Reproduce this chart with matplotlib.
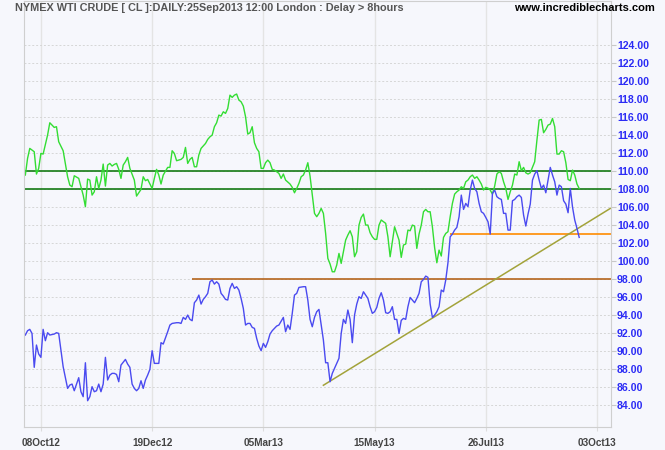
import matplotlib
matplotlib.use('Agg')
import matplotlib.pyplot as plt

plt.rcParams['font.family'] = ['Liberation Sans', 'DejaVu Sans']

# x = trading day index (0 = 26Sep12)
green_days = [1, 2, 3, 5, 6, 7, 8, 9, 11, 12, 14, 15, 16, 18, 20, 21, 22, 23, 25, 26,
              27, 28, 29, 30, 31, 32, 33, 34, 35, 36, 37, 38, 39, 40, 41, 42, 43, 44, 45, 46,
              47, 48, 50, 51, 53, 54, 55, 56, 58, 59, 60, 61, 62, 63, 65, 66, 67, 68, 69, 71,
              72, 73, 74, 75, 76, 77, 78, 79, 80, 82, 83, 84, 85, 86, 87, 88, 89, 90, 91, 92,
              93, 94, 95, 96, 97, 98, 99, 100, 101, 102, 103, 104, 105, 106, 107, 108, 109, 110, 111, 112,
              113, 115, 116, 117, 118, 120, 121, 122, 123, 124, 125, 126, 127, 128, 129, 130, 131, 132, 133, 134,
              135, 136, 137, 138, 139, 140, 141, 142, 143, 144, 145, 146, 147, 148, 149, 150, 151, 152, 153, 154,
              155, 156, 157, 158, 159, 160, 161, 163, 164, 165, 166, 167, 168, 169, 170, 171, 172, 173, 174, 175,
              176, 177, 178, 179, 180, 181, 182, 183, 184, 185, 186, 187, 188, 189, 190, 191, 192, 193, 194, 195,
              196, 197, 198, 199, 200, 201, 202, 203, 204, 205, 206, 207, 208, 209, 210, 211, 212, 213, 214, 215,
              216, 217, 218, 219, 220, 221, 222, 223, 224, 225, 226, 227, 228, 229, 230, 231, 232, 233, 234, 235,
              236, 237, 238, 239, 240, 241, 242, 243, 244, 245, 246, 247, 248, 249, 250]
green_vals = [109.56, 111.41, 112.52, 112.15, 109.67, 110.30, 111.96, 111.89, 114.0, 115.37,
              114.85, 114.93, 113.26, 112.26, 109.37, 108.44, 108.26, 109.48, 109.19, 108.26,
              107.33, 106.04, 109.11, 109.0, 107.33, 107.70, 109.37, 108.07, 109.0, 110.78,
              108.33, 110.67, 110.85, 110.56, 110.74, 110.85, 110.19, 109.19, 110.67, 111.04,
              111.52, 110.30, 109.0, 107.22, 107.96, 109.37, 108.93, 109.07, 108.07, 109.19,
              110.19, 109.56, 108.56, 109.56, 110.41, 110.41, 112.26, 111.96, 111.15, 111.30,
              111.52, 112.63, 110.85, 111.30, 111.52, 110.48, 110.48, 111.78, 112.52, 113.07,
              113.52, 113.81, 114.0, 114.93, 115.37, 116.22, 116.11, 116.59, 116.41, 116.96,
              118.44, 118.19, 118.44, 118.56, 117.89, 117.70, 117.22, 116.04, 114.11, 114.26,
              114.93, 113.15, 112.52, 112.15, 110.30, 110.30, 110.93, 111.22, 110.93, 110.19,
              110.11, 109.74, 109.19, 109.67, 109.0, 108.56, 108.19, 107.59, 108.07, 108.63,
              109.37, 109.56, 110.11, 110.93, 109.44, 107.33, 105.30, 104.93, 105.30, 105.85,
              105.30, 103.07, 100.30, 99.67, 98.81, 98.81, 99.56, 100.85, 99.74, 101.04,
              102.33, 102.89, 103.37, 102.70, 100.48, 101.04, 104.0, 104.85, 105.22, 104.0,
              104.0, 103.15, 102.70, 102.41, 102.41, 104.0, 104.56, 104.19, 102.70, 100.48,
              102.15, 103.81, 103.07, 102.33, 100.41, 101.78, 101.89, 103.44, 103.37, 104.0,
              103.89, 101.41, 103.0, 104.0, 105.48, 105.74, 105.48, 105.48, 103.81, 101.5,
              99.81, 101.22, 100.56, 102.63, 103.07, 103.26, 104.93, 106.41, 107.44, 107.70,
              107.89, 108.26, 108.07, 108.81, 109.0, 109.37, 109.56, 109.19, 109.37, 109.0,
              108.56, 107.89, 108.19, 108.1, 107.89, 107.44, 108.33, 109.67, 109.93, 109.74,
              108.81, 108.07, 106.85, 107.70, 108.44, 109.67, 109.56, 111.04, 110.04, 110.41,
              109.81, 109.67, 109.81, 110.41, 111.04, 113.44, 115.67, 115.74, 114.26, 114.63,
              115.11, 115.22, 115.85, 114.93, 111.89, 111.89, 112.26, 112.15, 110.93, 109.07,
              108.93, 110.11, 109.56, 108.56, 108.07]

blue_days = [1, 2, 3, 4, 5, 6, 7, 8, 9, 10, 11, 12, 14, 15, 16, 17, 18, 20, 21, 22,
             23, 24, 25, 26, 27, 28, 29, 30, 31, 32, 33, 34, 35, 36, 37, 38, 39, 40, 41, 42,
             43, 44, 46, 47, 48, 49, 50, 51, 52, 53, 54, 55, 56, 57, 58, 59, 61, 62, 63, 65,
             66, 67, 69, 70, 71, 72, 73, 74, 75, 76, 77, 78, 79, 80, 81, 82, 83, 84, 85, 86,
             87, 88, 89, 90, 91, 92, 93, 94, 95, 96, 97, 98, 99, 100, 101, 102, 103, 104, 105, 106,
             107, 108, 109, 110, 111, 112, 113, 114, 115, 117, 118, 119, 120, 121, 122, 123, 124, 126, 127, 128,
             129, 130, 131, 132, 133, 134, 135, 136, 137, 138, 139, 140, 141, 142, 143, 144, 145, 146, 147, 148,
             149, 150, 151, 152, 153, 154, 155, 156, 157, 158, 159, 160, 161, 162, 163, 164, 165, 166, 167, 168,
             169, 170, 171, 172, 173, 174, 175, 176, 177, 178, 179, 180, 181, 182, 183, 184, 185, 186, 187, 188,
             189, 190, 191, 192, 193, 194, 195, 196, 197, 198, 199, 200, 201, 202, 203, 204, 205, 206, 207, 208,
             209, 210, 211, 212, 213, 214, 215, 216, 217, 218, 219, 220, 221, 222, 223, 224, 225, 226, 227, 228,
             229, 230, 231, 232, 233, 234, 235, 236, 237, 238, 239, 240, 241, 242, 243, 244, 245, 246, 247, 248,
             249, 250]
blue_vals = [91.78, 92.26, 92.41, 91.96, 88.19, 90.67, 89.67, 89.30, 92.41, 91.15,
             92.04, 91.78, 91.89, 92.04, 91.96, 90.11, 88.26, 85.85, 86.22, 86.33,
             85.59, 86.33, 87.04, 85.48, 84.93, 88.70, 84.48, 84.93, 86.04, 85.48,
             85.59, 86.33, 85.48, 86.33, 89.30, 86.78, 87.33, 87.52, 87.52, 87.4,
             86.59, 88.44, 89.07, 88.55, 88.19, 86.33, 85.85, 85.59, 85.85, 86.70,
             85.85, 86.78, 87.33, 87.96, 90.04, 88.63, 88.63, 90.93, 90.78, 92.15,
             92.89, 93.07, 93.15, 93.15, 93.07, 93.74, 93.52, 94.0, 93.52, 93.37,
             95.37, 95.67, 96.22, 95.22, 95.74, 96.04, 96.41, 97.70, 97.89, 97.44,
             97.70, 97.44, 96.41, 96.11, 95.74, 95.67, 96.96, 97.52, 96.96, 97.15,
             96.78, 95.85, 94.74, 92.89, 93.07, 93.07, 92.63, 92.52, 91.41, 90.56,
             90.04, 90.85, 90.41, 91.04, 91.89, 92.26, 92.52, 92.78, 92.89, 93.74,
             92.15, 92.89, 92.41, 94.19, 96.22, 96.41, 97.07, 97.15, 97.15, 95.67,
             93.52, 92.70, 93.74, 94.37, 94.63, 92.89, 91.22, 88.70, 88.70, 86.59,
             87.52, 88.07, 88.63, 89.19, 91.96, 93.52, 93.07, 94.56, 93.52, 90.93,
             94.0, 95.22, 96.04, 95.85, 96.59, 96.22, 95.85, 94.93, 94.19, 94.37,
             94.85, 95.85, 96.48, 95.67, 94.26, 94.19, 94.37, 94.93, 93.52, 93.52,
             91.96, 93.41, 93.63, 93.52, 94.93, 95.96, 95.67, 95.37, 95.85, 96.41,
             97.70, 97.96, 98.33, 98.19, 95.22, 93.74, 94.0, 94.37, 94.93, 96.78,
             96.59, 97.89, 99.81, 102.70, 103.0, 103.44, 103.74, 104.93, 107.33, 105.74,
             106.41, 106.04, 107.89, 109.0, 108.07, 107.70, 106.41, 105.48, 105.30, 104.85,
             104.37, 103.0, 107.52, 107.89, 107.15, 106.96, 106.85, 105.30, 105.30, 103.44,
             103.44, 106.70, 106.85, 107.15, 107.33, 107.07, 105.11, 103.89, 105.22, 106.33,
             109.0, 109.67, 110.04, 109.0, 108.07, 108.44, 107.59, 109.0, 110.41, 109.56,
             108.81, 107.33, 108.44, 108.26, 106.70, 106.33, 105.37, 108.07, 106.0, 104.56,
             103.63, 102.63]

tick_days = [8, 58, 108, 158, 208, 258]
tick_labels = ['08Oct12', '19Dec12', '05Mar13', '15May13', '26Jul13', '03Oct13']
price_ticks = list(range(84, 125, 2))

band_levels = [110, 108]
support_levels = [98, 103]
support_start = [76, 192]
trend_days = [135, 264]
trend_vals = [86.2, 105.85]

bg = '#f6f7fc'
fig = plt.figure(figsize=(6.65, 4.5), dpi=100)
fig.patch.set_facecolor(bg)
ax = fig.add_axes([24 / 665, 23 / 450, 587 / 665, 426 / 450])
ax.set_facecolor(bg)

xmin, xmax = 0.4, 264.3
ax.set_xlim(xmin, xmax)
ax.set_ylim(81.56, 128.9)

ax.set_yticks(price_ticks)
ax.set_yticklabels(['%.2f' % p for p in price_ticks])
ax.yaxis.tick_right()
ax.tick_params(axis='y', length=3.5, color='#c8c8c8', pad=0.8, labelsize=7.6,
               labelcolor='#2b2bf5')
for t in ax.get_yticklabels():
    t.set_fontweight('bold')

ax.set_xticks(tick_days)
ax.set_xticklabels(tick_labels)
ax.tick_params(axis='x', length=3, color='#dddddd', pad=5, labelsize=7.2,
               labelcolor='#444444')
for t in ax.get_xticklabels():
    t.set_fontweight('bold')

ax.grid(axis='y', color='#d6d6d6', linestyle=(0, (2, 2)), linewidth=0.7)
ax.grid(axis='x', color='#e4e4e4', linestyle='-', linewidth=1)
ax.set_axisbelow(True)
for s in ax.spines.values():
    s.set_color('#cfcfcf')
    s.set_linewidth(0.8)

ax.hlines(band_levels, xmin, xmax, colors='#157a15', linewidth=1.2)
ax.hlines(support_levels[0], support_start[0], xmax, colors='#b5651d', linewidth=1.2)
ax.hlines(support_levels[1], support_start[1], xmax, colors='#ff8c00', linewidth=1.2)
ax.plot(trend_days, trend_vals, color='#a3a33a', linewidth=1.1)

ax.plot(green_days, green_vals, color='#33dd33', linewidth=1.0)
ax.plot(blue_days, blue_vals, color='#4a4af0', linewidth=1.0)

fig.text(15 / 665, 1 - 8 / 450,
         'NYMEX WTI CRUDE [ CL ]:DAILY:25Sep2013 12:00 London : Delay > 8hours',
         fontsize=7.8, color='#555555', fontweight='bold', va='center', ha='left')
fig.text(655 / 665, 1 - 8 / 450, 'www.incrediblecharts.com', fontsize=8,
         color='black', fontweight='bold', va='center', ha='right')

fig.savefig('out.png', dpi=100, facecolor=bg)
